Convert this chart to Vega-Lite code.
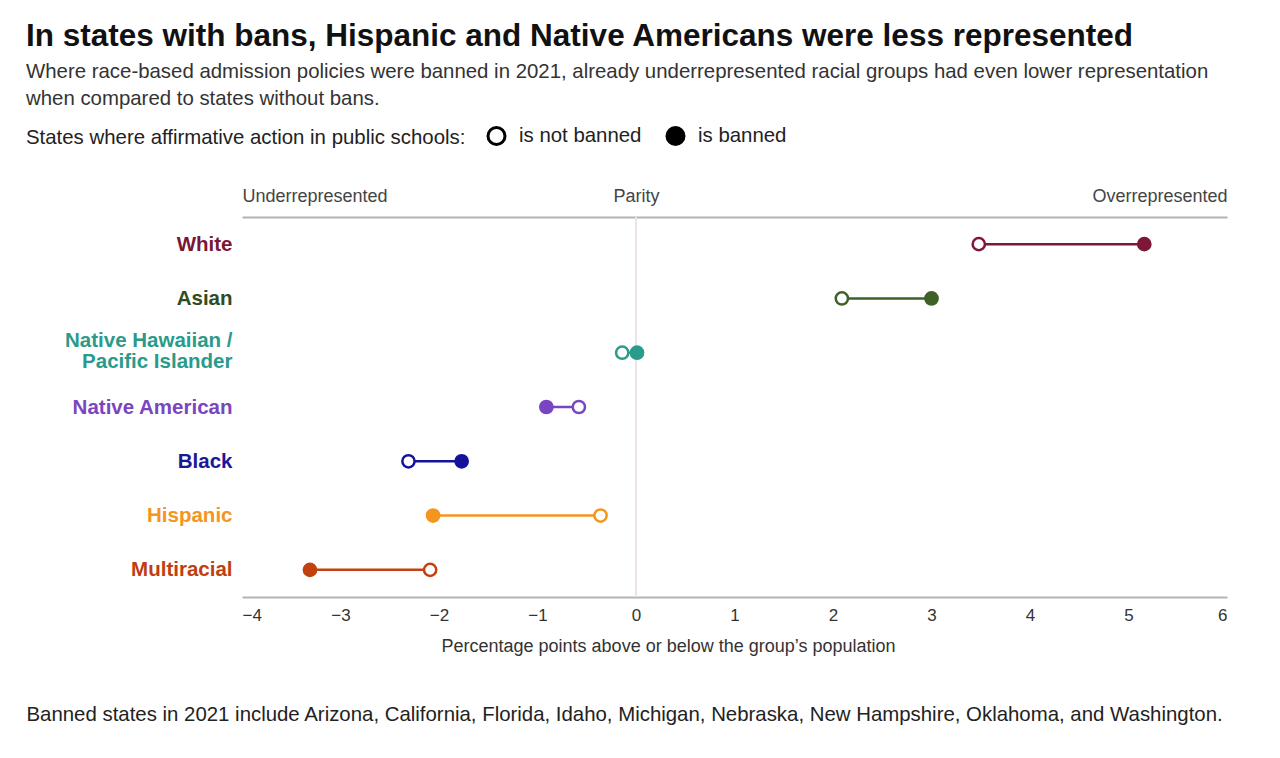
{
  "$schema": "https://vega.github.io/schema/vega-lite/v6.json",
  "width": 985,
  "height": 380,
  "autosize": "none",
  "padding": {"left": 242, "top": 217, "right": 53, "bottom": 161},
  "background": "white",
  "config": {"view": {"stroke": null}, "font": "Liberation Sans"},
  "title": {
    "text": "In states with bans, Hispanic and Native Americans were less represented",
    "subtitle": ["Where race-based admission policies were banned in 2021, already underrepresented racial groups had even lower representation", "when compared to states without bans."],
    "anchor": "start",
    "frame": "group",
    "dx": -216,
    "fontSize": 31.5,
    "fontWeight": "bold",
    "color": "#111",
    "subtitleFontSize": 20.4,
    "subtitleColor": "#333",
    "subtitleLineHeight": 27,
    "subtitlePadding": 9,
    "offset": 16
  },
  "data": {
    "values": [
      {"race": "White", "not_banned": 3.48, "banned": 5.16},
      {"race": "Asian", "not_banned": 2.09, "banned": 3.0},
      {"race": "Native Hawaiian / Pacific Islander", "not_banned": -0.14, "banned": 0.01},
      {"race": "Native American", "not_banned": -0.58, "banned": -0.91},
      {"race": "Black", "not_banned": -2.31, "banned": -1.77},
      {"race": "Hispanic", "not_banned": -0.36, "banned": -2.06},
      {"race": "Multiracial", "not_banned": -2.09, "banned": -3.31}
    ]
  },
  "resolve": {"axis": {"x": "independent"}, "scale": {"fill": "independent"}},
  "layer": [
    {
      "mark": {"type": "rule", "color": "#ece2ec", "strokeWidth": 1},
      "encoding": {
        "x": {
          "datum": 0,
          "type": "quantitative",
          "scale": {"domain": [-4, 6], "nice": false, "zero": false},
          "axis": {
            "orient": "top",
            "values": [-4, 0, 6],
            "labelExpr": "datum.value == -4 ? 'Underrepresented' : datum.value == 0 ? 'Parity' : 'Overrepresented'",
            "labelAlign": {"condition": [{"test": "datum.value == -4", "value": "left"}, {"test": "datum.value == 6", "value": "right"}], "value": "center"},
            "labelFontSize": 18,
            "labelColor": "#444",
            "labelPadding": 12,
            "ticks": false,
            "grid": false,
            "domainColor": "#b3b3b3",
            "domainWidth": 2,
            "title": null
          }
        }
      }
    },
    {
      "transform": [{"fold": ["not_banned", "banned"], "as": ["status", "value"]}],
      "mark": {"type": "point", "filled": true, "size": 150, "opacity": 0},
      "encoding": {
        "y": {
          "field": "race",
          "type": "nominal",
          "sort": ["White", "Asian", "Native Hawaiian / Pacific Islander", "Native American", "Black", "Hispanic", "Multiracial"]
        },
        "x": {"field": "value", "type": "quantitative", "axis": null},
        "fill": {
          "field": "status",
          "type": "nominal",
          "scale": {"domain": ["not_banned", "banned"], "range": ["white", "black"]},
          "legend": {
            "orient": "none",
            "legendX": -216,
            "legendY": -92,
            "direction": "horizontal",
            "title": "States where affirmative action in public schools:",
            "titleOrient": "left",
            "titleFontSize": 20.4,
            "titleFontWeight": "normal",
            "titleColor": "#222",
            "titlePadding": 20,
            "titleLimit": 600,
            "titleBaseline": "middle",
            "labelExpr": "datum.value == 'banned' ? 'is banned' : 'is not banned'",
            "labelFontSize": 20.4,
            "labelColor": "#222",
            "labelOffset": 12,
            "columnPadding": 18,
            "symbolType": "circle",
            "symbolSize": 290,
            "symbolStrokeWidth": 3,
            "symbolStrokeColor": "black",
            "symbolOpacity": 1
          }
        }
      }
    },
    {
      "mark": {"type": "rule", "strokeWidth": 2.5},
      "encoding": {
        "y": {
          "field": "race",
          "type": "nominal",
          "sort": ["White", "Asian", "Native Hawaiian / Pacific Islander", "Native American", "Black", "Hispanic", "Multiracial"],
          "scale": {"type": "point", "padding": 0.5},
          "axis": {
            "orient": "left",
            "title": null,
            "domain": false,
            "ticks": false,
            "grid": false,
            "labelPadding": 10,
            "labelFontSize": 20.5,
            "labelFontWeight": "bold",
            "labelLimit": 300,
            "labelLineHeight": 21,
            "labelExpr": "datum.value == 'Native Hawaiian / Pacific Islander' ? ['Native Hawaiian /', 'Pacific Islander'] : datum.value",
            "labelOffset": {"condition": {"test": "datum.value == 'Native Hawaiian / Pacific Islander'", "value": -12}, "value": 0},
            "labelColor": {
              "condition": [
                {"test": "datum.value == 'White'", "value": "#7a1636"},
                {"test": "datum.value == 'Asian'", "value": "#2f4c1d"},
                {"test": "datum.value == 'Native Hawaiian / Pacific Islander'", "value": "#2a9a8a"},
                {"test": "datum.value == 'Native American'", "value": "#7b45c0"},
                {"test": "datum.value == 'Black'", "value": "#1a1896"},
                {"test": "datum.value == 'Hispanic'", "value": "#f4951d"}
              ],
              "value": "#c03e10"
            }
          }
        },
        "x": {
          "field": "not_banned",
          "type": "quantitative",
          "axis": {
            "orient": "bottom",
            "values": [-4, -3, -2, -1, 0, 1, 2, 3, 4, 5, 6],
            "grid": false,
            "ticks": false,
            "domainColor": "#b3b3b3",
            "domainWidth": 2,
            "labelFontSize": 17,
            "labelColor": "#333",
            "labelPadding": 10,
            "title": "Percentage points above or below the group’s population",
            "titleFontSize": 18,
            "titleFontWeight": "normal",
            "titleColor": "#333",
            "titleX": 426,
            "titleY": 49,
            "titleAlign": "center",
            "titleBaseline": "middle"
          }
        },
        "x2": {"field": "banned"},
        "stroke": {
          "field": "race",
          "type": "nominal",
          "scale": {
            "domain": ["White", "Asian", "Native Hawaiian / Pacific Islander", "Native American", "Black", "Hispanic", "Multiracial"],
            "range": ["#7f1739", "#3f6128", "#2b9c8c", "#7a45c2", "#16139a", "#f4951d", "#c2410f"]
          },
          "legend": null
        }
      }
    },
    {
      "transform": [{"fold": ["not_banned", "banned"], "as": ["status", "value"]}],
      "mark": {"type": "point", "filled": true, "size": 150, "strokeWidth": 2.5, "opacity": 1},
      "encoding": {
        "y": {
          "field": "race",
          "type": "nominal",
          "sort": ["White", "Asian", "Native Hawaiian / Pacific Islander", "Native American", "Black", "Hispanic", "Multiracial"]
        },
        "x": {
          "field": "value",
          "type": "quantitative",
          "axis": {
            "orient": "bottom",
            "domain": false,
            "ticks": false,
            "labels": false,
            "grid": false,
            "title": "Banned states in 2021 include Arizona, California, Florida, Idaho, Michigan, Nebraska, New Hampshire, Oklahoma, and Washington.",
            "titleFontSize": 20.4,
            "titleFontWeight": "normal",
            "titleColor": "#222",
            "titleX": -216,
            "titleY": 117,
            "titleAlign": "left",
            "titleBaseline": "middle",
            "titleLimit": 1300
          }
        },
        "stroke": {"field": "race", "type": "nominal", "legend": null},
        "fill": {
          "condition": {
            "test": "datum.status === 'banned'",
            "field": "race",
            "type": "nominal",
            "scale": {
              "domain": ["White", "Asian", "Native Hawaiian / Pacific Islander", "Native American", "Black", "Hispanic", "Multiracial"],
              "range": ["#7f1739", "#3f6128", "#2b9c8c", "#7a45c2", "#16139a", "#f4951d", "#c2410f"]
            },
            "legend": null
          },
          "value": "white"
        }
      }
    }
  ]
}
